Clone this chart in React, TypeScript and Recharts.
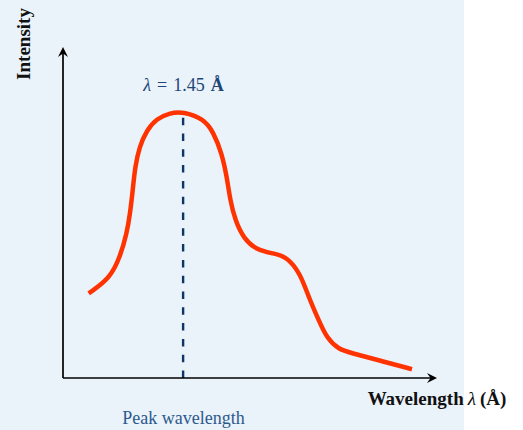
import React from "react";
import { LineChart, Line, XAxis, YAxis, ReferenceLine } from "recharts";

// spectrum (wavelength in Å, intensity relative to peak)
const wavelength = [
  0.31, 0.568, 0.689, 0.77, 0.81, 0.842, 0.87, 0.922, 1.011, 1.132, 1.293, 1.45,
  1.695, 1.816, 1.918, 1.978, 2.018, 2.078, 2.179, 2.34, 2.541, 2.703, 2.864, 2.964,
  3.085, 3.186, 3.327, 3.468, 3.83, 4.213,
];
const intensity = [
  0.318, 0.374, 0.455, 0.543, 0.618, 0.705, 0.793, 0.868, 0.931, 0.974, 0.996, 1.0,
  0.974, 0.924, 0.843, 0.755, 0.668, 0.593, 0.524, 0.48, 0.468, 0.455, 0.393, 0.305,
  0.218, 0.149, 0.108, 0.095, 0.065, 0.033,
];

const peakWavelength = 1.45;
const peakIntensity = 1.0;
const xMax = 4.515;
const yMax = 1.243;

const peakCaption = "Peak wavelength";
const xLabel = "Wavelength";
const yLabel = "Intensity";

const data = wavelength.map((w, i) => ({ w, v: intensity[i] }));

const FONT = "'Liberation Serif', 'Times New Roman', serif";

// axis line with a stealth-like arrow head at the far end
const ArrowLine = (props: any) => {
  const { x1, y1, x2, y2 } = props;
  const a = Math.atan2(y2 - y1, x2 - x1);
  const c = Math.cos(a);
  const s = Math.sin(a);
  const pt = (bx: number, by: number) => `${x2 + bx * c - by * s},${y2 + bx * s + by * c}`;
  return (
    <g>
      <line x1={x1} y1={y1} x2={x2 - 4 * c} y2={y2 - 4 * s} stroke="#000" strokeWidth={1.7} />
      <path d={`M${pt(0, 0)} L${pt(-10, -5)} L${pt(-6.5, 0)} L${pt(-10, 5)} Z`} fill="#000" />
    </g>
  );
};

const DashLine = (props: any) => {
  const { x1, y1, x2, y2 } = props;
  return <line x1={x1} y1={y1} x2={x2} y2={y2} stroke="#0e3566" strokeWidth={2.4} strokeDasharray="7.5 8.3" />;
};

export default function App() {
  return (
    <div style={{ position: "absolute", left: 0, top: 0, width: 523, height: 430, background: "#fff" }}>
      <div style={{ position: "absolute", left: 0, top: 0, width: 464, height: 430, background: "#eaf2fa" }} />
      <div style={{ position: "absolute", left: 0, top: 0 }}>
        <LineChart width={523} height={430} data={data} margin={{ top: 47, left: 63, right: 86, bottom: 52 }}>
          <XAxis dataKey="w" type="number" domain={[0, xMax]} hide allowDataOverflow />
          <YAxis type="number" domain={[0, yMax]} hide allowDataOverflow />
          <ReferenceLine
            segment={[{ x: peakWavelength, y: 0 }, { x: peakWavelength, y: peakIntensity }]}
            ifOverflow="visible"
            shape={DashLine}
          />
          <Line
            type="basis"
            dataKey="v"
            stroke="#ff3300"
            strokeWidth={4.5}
            dot={false}
            activeDot={false}
            isAnimationActive={false}
          />
          <ReferenceLine segment={[{ x: 0, y: 0 }, { x: xMax, y: 0 }]} ifOverflow="visible" shape={ArrowLine} />
          <ReferenceLine segment={[{ x: 0, y: 0 }, { x: 0, y: yMax }]} ifOverflow="visible" shape={ArrowLine} />
          <text x={183.5} y={91} textAnchor="middle" fontFamily={FONT} fontSize={18} fill="#1d4677">
            <tspan fontStyle="italic">λ</tspan>
            <tspan dx={6}>=</tspan>
            <tspan dx={6}>1.45</tspan>
            <tspan dx={6} fontWeight="bold">Å</tspan>
          </text>
          <text x={183.5} y={424} textAnchor="middle" fontFamily={FONT} fontSize={18} fill="#2c5a8c">
            {peakCaption}
          </text>
          <text x={437} y={405} textAnchor="middle" fontFamily={FONT} fontSize={19} fill="#111">
            <tspan fontWeight="bold">{xLabel}</tspan>
            <tspan dx={4} fontStyle="italic">λ</tspan>
            <tspan dx={4} fontWeight="bold">(Å)</tspan>
          </text>
          <text
            x={30}
            y={44}
            transform="rotate(-90 30 44)"
            textAnchor="middle"
            fontFamily={FONT}
            fontSize={19}
            fontWeight="bold"
            fill="#111"
          >
            {yLabel}
          </text>
        </LineChart>
      </div>
    </div>
  );
}
